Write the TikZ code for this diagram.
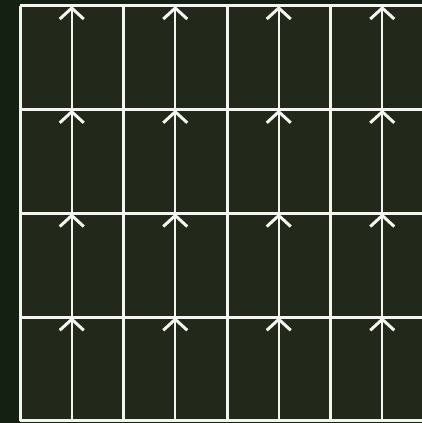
\documentclass[tikz,border=0pt]{standalone}
\usepackage{tikz}
\usetikzlibrary{arrows.meta}
\definecolor{FieldDark}{HTML}{142011}
\definecolor{FieldOlive}{HTML}{22281A}
\definecolor{GridWhite}{HTML}{F4F4F0}

\begin{document}
\begin{tikzpicture}[
    x=1pt, y=1pt,
    grade/.style={draw=GridWhite, line width=3pt},
    seta/.style={draw=GridWhite, line width=2.4pt, -{Straight Barb[length=11pt, width=24pt, line width=3pt]}}
]

  % Fundo geral
  \fill[FieldDark] (0, 0) rectangle (422, 423);
  \useasboundingbox (0, 0) rectangle (422, 423);

  % Area da grade
  \fill[FieldOlive] (20, 2) rectangle (422, 417);

  % Setas de cada celula (de baixo para cima)
  \foreach \i in {0,...,3} {
    \foreach \j in {0,...,3} {
      \coordinate (b-\i-\j) at ({20 + 103.5*\i + 51.75}, {2 + 103.75*\j});
      \coordinate (t-\i-\j) at ({20 + 103.5*\i + 51.75}, {2 + 103.75*(\j+1)});
      \draw[seta] (b-\i-\j) -- (t-\i-\j);
    }
  }

  % Linhas da grade
  \foreach \i in {0,...,3}
    \draw[grade] ({20 + 103.5*\i}, 2) -- ({20 + 103.5*\i}, 417);
  \foreach \j in {0,...,4}
    \draw[grade] (20, {2 + 103.75*\j}) -- (422, {2 + 103.75*\j});

\end{tikzpicture}
\end{document}
